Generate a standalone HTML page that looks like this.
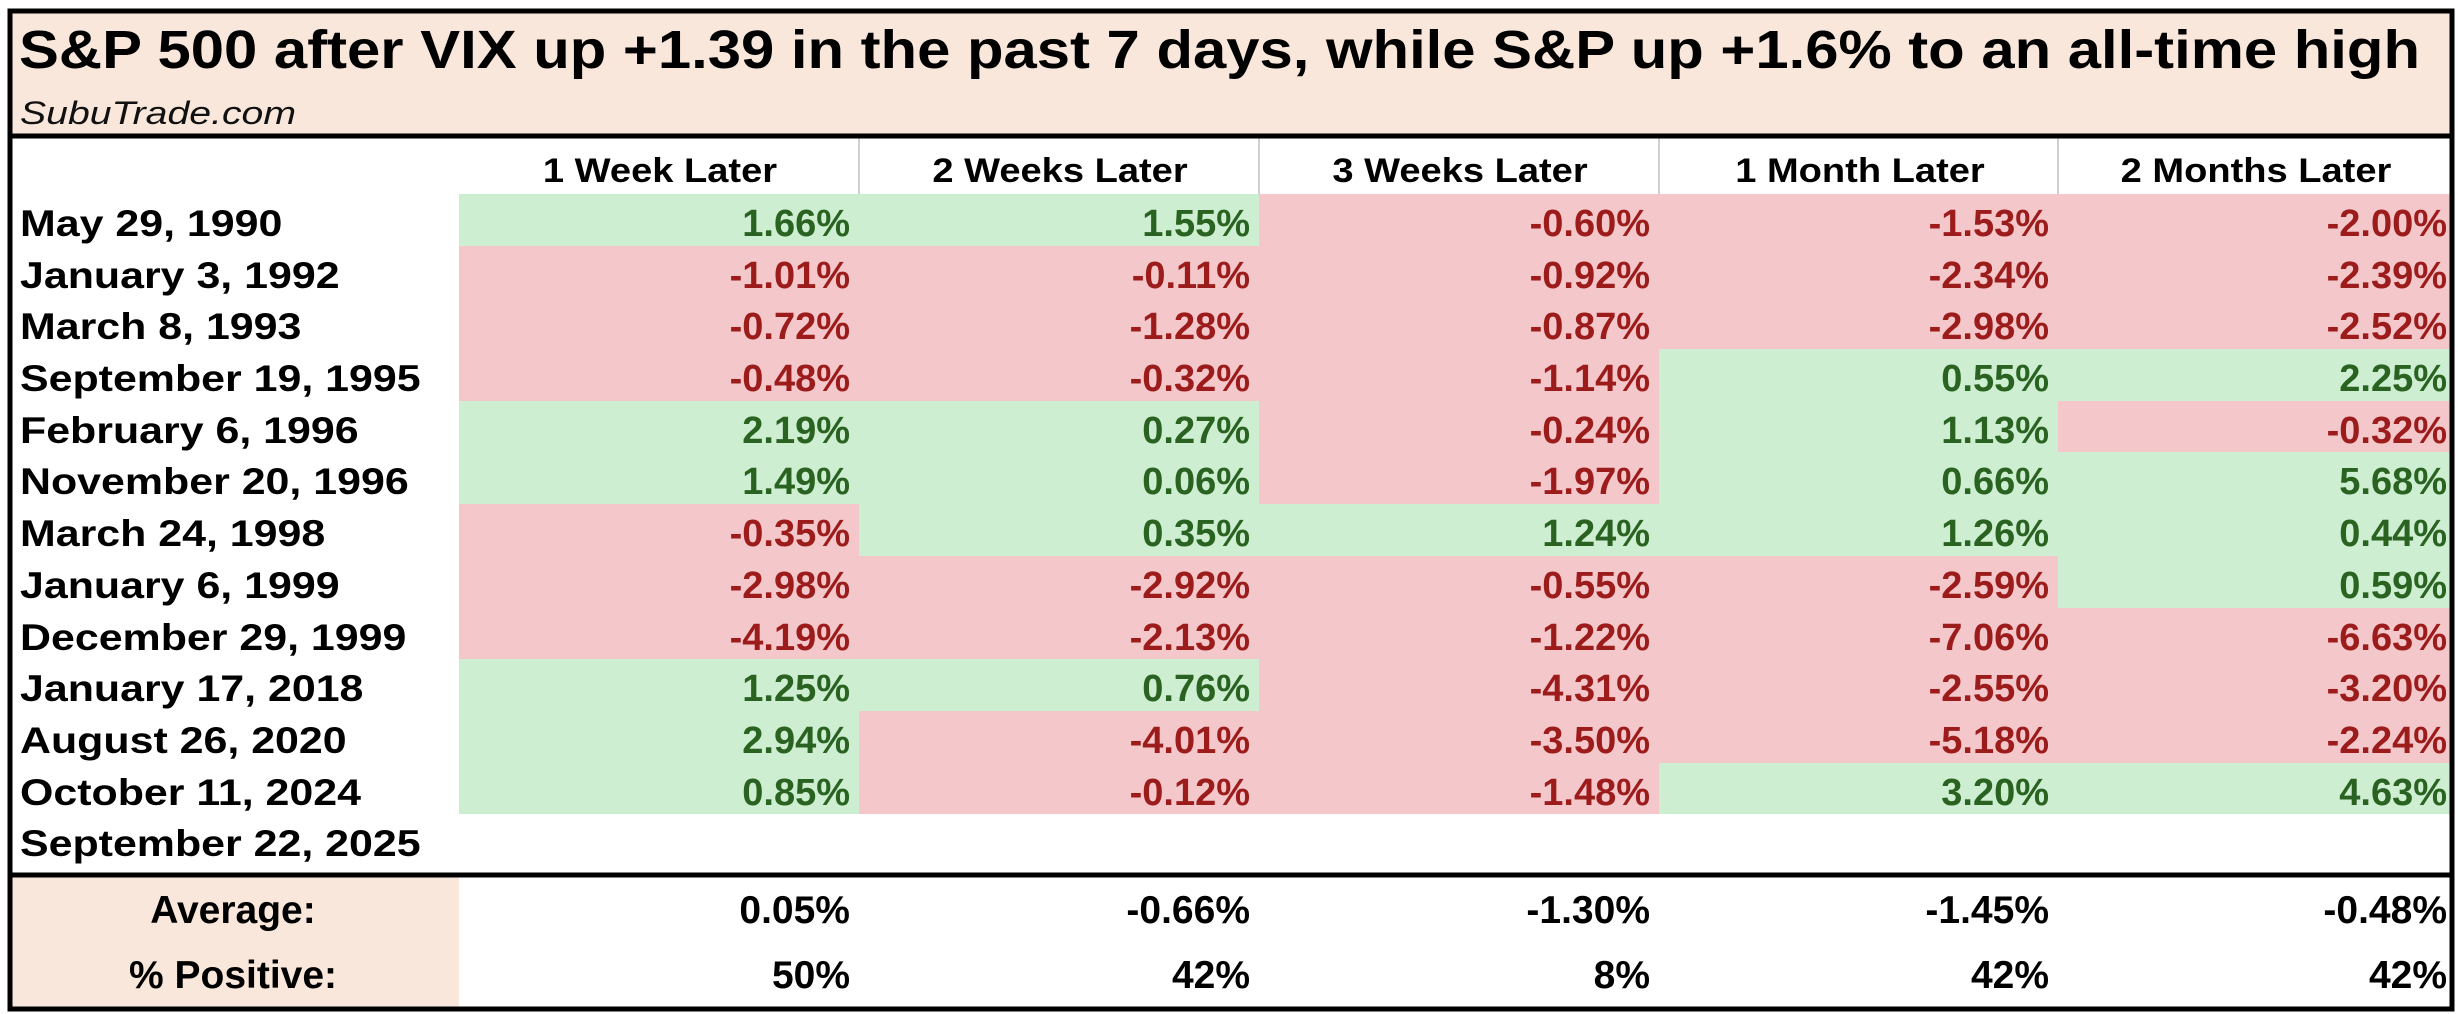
<!DOCTYPE html>
<html><head><meta charset="utf-8"><style>
html,body{margin:0;padding:0;background:#fff;}
svg{display:block;font-family:"Liberation Sans",Arial,sans-serif;font-weight:bold;}
.g{fill:#2a6321}.r{fill:#9c1c1c}
</style></head><body>
<svg width="2458" height="1014" viewBox="0 0 2458 1014" xmlns="http://www.w3.org/2000/svg">
<rect x="0" y="0" width="2458" height="1014" fill="#fff"/>
<rect x="8" y="9" width="2446" height="126" fill="#f9e7db"/>
<text x="19" y="68" font-size="54" textLength="2401" lengthAdjust="spacingAndGlyphs" fill="#000">S&amp;P 500 after VIX up +1.39 in the past 7 days, while S&amp;P up +1.6% to an all-time high</text>
<text x="20" y="124" font-size="32" font-weight="normal" font-style="italic" textLength="276" lengthAdjust="spacingAndGlyphs" fill="#111">SubuTrade.com</text>
<rect x="8" y="877" width="451" height="131" fill="#f9e7db"/>
<g stroke="#d0d0d0" stroke-width="2">
<line x1="859" y1="138" x2="859" y2="194"/><line x1="1259" y1="138" x2="1259" y2="194"/>
<line x1="1659" y1="138" x2="1659" y2="194"/><line x1="2058" y1="138" x2="2058" y2="194"/>
</g>
<g font-size="34" text-anchor="middle" fill="#000">
<text transform="translate(660,182) scale(1.12,1)">1 Week Later</text>
<text transform="translate(1060,182) scale(1.12,1)">2 Weeks Later</text>
<text transform="translate(1460,182) scale(1.12,1)">3 Weeks Later</text>
<text transform="translate(1860,182) scale(1.12,1)">1 Month Later</text>
<text transform="translate(2256,182) scale(1.12,1)">2 Months Later</text>
</g>
<rect x="459" y="194" width="1995" height="620" fill="#f4c7cb"/>
<g fill="#cdeed0">
<rect x="459" y="194" width="400" height="52"/><rect x="459" y="401" width="400" height="103"/><rect x="459" y="659" width="400" height="155"/>
<rect x="859" y="194" width="400" height="52"/><rect x="859" y="401" width="400" height="155"/><rect x="859" y="659" width="400" height="52"/>
<rect x="1259" y="504" width="400" height="52"/>
<rect x="1659" y="349" width="399" height="207"/><rect x="1659" y="763" width="399" height="51"/>
<rect x="2058" y="349" width="396" height="52"/><rect x="2058" y="452" width="396" height="156"/><rect x="2058" y="763" width="396" height="51"/>
</g>
<g font-size="37" fill="#000" transform="translate(20,0) scale(1.16,1)">
<text x="0" y="236">May 29, 1990</text>
<text x="0" y="288">January 3, 1992</text>
<text x="0" y="339">March 8, 1993</text>
<text x="0" y="391">September 19, 1995</text>
<text x="0" y="443">February 6, 1996</text>
<text x="0" y="494">November 20, 1996</text>
<text x="0" y="546">March 24, 1998</text>
<text x="0" y="598">January 6, 1999</text>
<text x="0" y="650">December 29, 1999</text>
<text x="0" y="701">January 17, 2018</text>
<text x="0" y="753">August 26, 2020</text>
<text x="0" y="805">October 11, 2024</text>
<text x="0" y="856">September 22, 2025</text>
</g>
<g font-size="38" text-anchor="end">
<g transform="translate(850,0) scale(1.0,1)">
<text class="g" y="236">1.66%</text><text class="r" y="288">-1.01%</text><text class="r" y="339">-0.72%</text><text class="r" y="391">-0.48%</text><text class="g" y="443">2.19%</text><text class="g" y="494">1.49%</text><text class="r" y="546">-0.35%</text><text class="r" y="598">-2.98%</text><text class="r" y="650">-4.19%</text><text class="g" y="701">1.25%</text><text class="g" y="753">2.94%</text><text class="g" y="805">0.85%</text>
</g>
<g transform="translate(1250,0) scale(1.0,1)">
<text class="g" y="236">1.55%</text><text class="r" y="288">-0.11%</text><text class="r" y="339">-1.28%</text><text class="r" y="391">-0.32%</text><text class="g" y="443">0.27%</text><text class="g" y="494">0.06%</text><text class="g" y="546">0.35%</text><text class="r" y="598">-2.92%</text><text class="r" y="650">-2.13%</text><text class="g" y="701">0.76%</text><text class="r" y="753">-4.01%</text><text class="r" y="805">-0.12%</text>
</g>
<g transform="translate(1650,0) scale(1.0,1)">
<text class="r" y="236">-0.60%</text><text class="r" y="288">-0.92%</text><text class="r" y="339">-0.87%</text><text class="r" y="391">-1.14%</text><text class="r" y="443">-0.24%</text><text class="r" y="494">-1.97%</text><text class="g" y="546">1.24%</text><text class="r" y="598">-0.55%</text><text class="r" y="650">-1.22%</text><text class="r" y="701">-4.31%</text><text class="r" y="753">-3.50%</text><text class="r" y="805">-1.48%</text>
</g>
<g transform="translate(2049,0) scale(1.0,1)">
<text class="r" y="236">-1.53%</text><text class="r" y="288">-2.34%</text><text class="r" y="339">-2.98%</text><text class="g" y="391">0.55%</text><text class="g" y="443">1.13%</text><text class="g" y="494">0.66%</text><text class="g" y="546">1.26%</text><text class="r" y="598">-2.59%</text><text class="r" y="650">-7.06%</text><text class="r" y="701">-2.55%</text><text class="r" y="753">-5.18%</text><text class="g" y="805">3.20%</text>
</g>
<g transform="translate(2447,0) scale(1.0,1)">
<text class="r" y="236">-2.00%</text><text class="r" y="288">-2.39%</text><text class="r" y="339">-2.52%</text><text class="g" y="391">2.25%</text><text class="r" y="443">-0.32%</text><text class="g" y="494">5.68%</text><text class="g" y="546">0.44%</text><text class="g" y="598">0.59%</text><text class="r" y="650">-6.63%</text><text class="r" y="701">-3.20%</text><text class="r" y="753">-2.24%</text><text class="g" y="805">4.63%</text>
</g>
</g>
<g font-size="39" fill="#000">
<text transform="translate(233,923) scale(1.0,1)" text-anchor="middle">Average:</text>
<text transform="translate(233,988) scale(1.0,1)" text-anchor="middle">% Positive:</text>
</g>
<g font-size="39" fill="#000" text-anchor="end">
<g transform="translate(850,0)"><text y="923">0.05%</text><text y="988">50%</text></g>
<g transform="translate(1250,0)"><text y="923">-0.66%</text><text y="988">42%</text></g>
<g transform="translate(1650,0)"><text y="923">-1.30%</text><text y="988">8%</text></g>
<g transform="translate(2049,0)"><text y="923">-1.45%</text><text y="988">42%</text></g>
<g transform="translate(2447,0)"><text y="923">-0.48%</text><text y="988">42%</text></g>
</g>
<g fill="none" stroke="#000">
<rect x="10" y="11" width="2442" height="998" stroke-width="5"/>
<line x1="8" y1="136" x2="2454" y2="136" stroke-width="5"/>
<line x1="8" y1="875" x2="2454" y2="875" stroke-width="5"/>
</g>
</svg>
</body></html>
